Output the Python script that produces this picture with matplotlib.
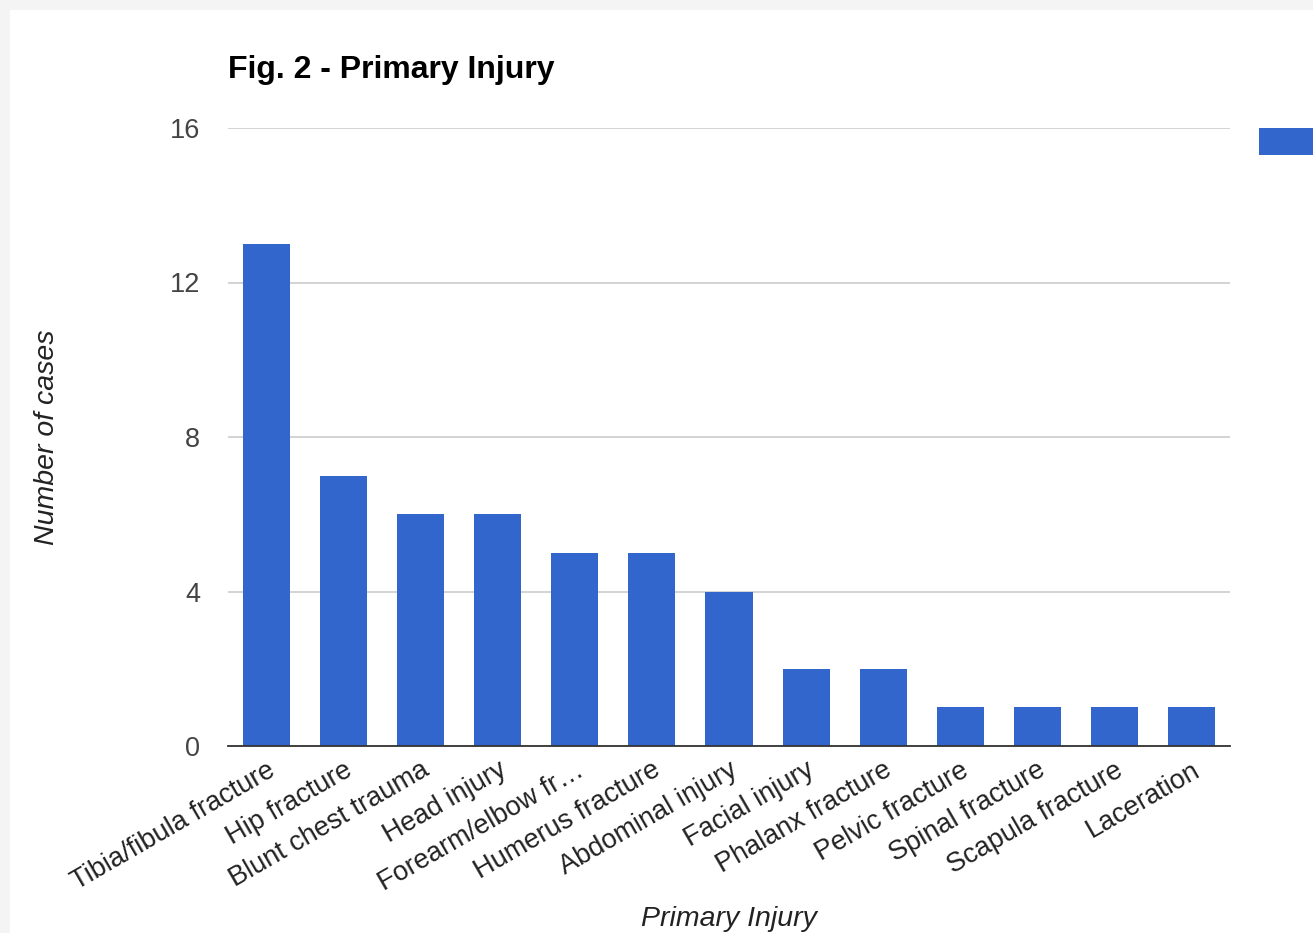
import matplotlib
matplotlib.use("Agg")
import matplotlib.pyplot as plt
from matplotlib.patches import Rectangle

categories = ["Tibia/fibula fracture", "Hip fracture", "Blunt chest trauma", "Head injury",
              "Forearm/elbow fr\u2026", "Humerus fracture", "Abdominal injury", "Facial injury",
              "Phalanx fracture", "Pelvic fracture", "Spinal fracture", "Scapula fracture",
              "Laceration"]
values = [13, 7, 6, 6, 5, 5, 4, 2, 2, 1, 1, 1, 1]
yticks = [0, 4, 8, 12, 16]

plt.rcParams['font.family'] = ['Liberation Sans', 'DejaVu Sans']

fig = plt.figure(figsize=(13.13, 9.33), dpi=100)
fig.patch.set_facecolor('#f4f4f4')
fig.patches.append(Rectangle((10/1313, 0), 1, 1 - 10/933, transform=fig.transFigure,
                             facecolor='white', edgecolor='none', zorder=-10))

ax = fig.add_axes([228/1313, 1 - 746/933, (1230-228)/1313, (746-128)/933])
ax.set_facecolor('none')
x = list(range(len(categories)))
ax.bar(x, values, width=0.61, color='#3366cc', zorder=3)
ax.set_xlim(-0.5, len(categories) - 0.5)
ax.set_ylim(0, 16)
ax.set_yticks(yticks)
ax.set_yticklabels([str(t) for t in yticks], fontsize=19.5, color='#444444')
ax.set_xticks(x)
ax.set_xticklabels(categories, rotation=30, ha='right', rotation_mode='anchor',
                   fontsize=19.5, color='#222222')
ax.tick_params(axis='both', length=0)
ax.tick_params(axis='y', pad=20)
ax.tick_params(axis='x', pad=8)
ax.grid(axis='y', color='#cccccc', linewidth=1.2, zorder=0)
for s in ['top', 'right', 'left']:
    ax.spines[s].set_visible(False)
ax.spines['bottom'].set_color('#333333')
ax.spines['bottom'].set_linewidth(1.3)
ax.spines['bottom'].set_zorder(4)

ax.set_ylabel('Number of cases', fontsize=20.5, style='italic', color='#222222', va='center')
ax.yaxis.set_label_coords(-0.181, 0.5)
ax.set_xlabel('Primary Injury', fontsize=20.5, style='italic', color='#222222', va='center')
ax.xaxis.set_label_coords(0.5, -0.28)

fig.text(228/1313, 1 - 70/933, 'Fig. 2 - Primary Injury', fontsize=23, fontweight='bold',
         color='#000000', va='center', ha='left')

fig.patches.append(Rectangle((1259/1313, 1 - 155/933), 60/1313, 27/933, transform=fig.transFigure,
                             facecolor='#3366cc', edgecolor='none', zorder=5))

fig.savefig('out.png', dpi=100)
